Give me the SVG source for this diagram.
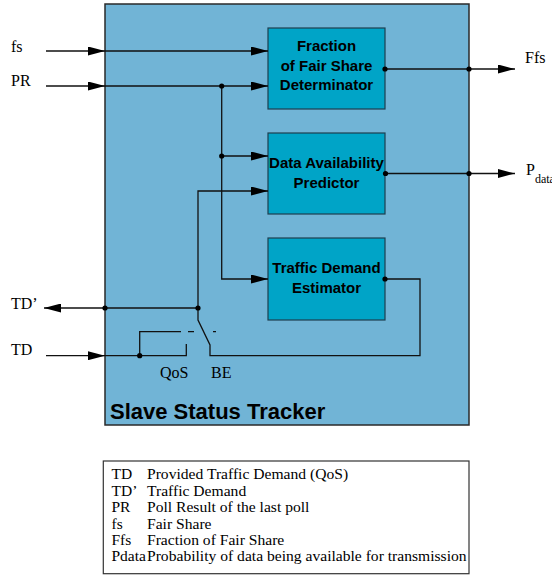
<svg xmlns="http://www.w3.org/2000/svg" width="552" height="577" viewBox="0 0 552 577">
<defs>
<marker id="ah" markerUnits="userSpaceOnUse" markerWidth="17" markerHeight="9" refX="17" refY="4.5" orient="auto">
<path d="M0,0 L17,4.5 L0,9 z" fill="#000"/>
</marker>
<style>
.wire{fill:none;stroke:#111;stroke-width:1.3}
.dot{fill:#000}
.box{fill:#00a4c7;stroke:#1d3f4f;stroke-width:1.2}
.bt{font-family:"Liberation Sans",Arial,sans-serif;font-weight:bold;font-size:15px;fill:#000;text-anchor:middle}
.lbl{font-family:"Liberation Serif","Times New Roman",serif;font-size:16px;fill:#000}
.leg{font-family:"Liberation Serif","Times New Roman",serif;font-size:15.5px;fill:#000}
.legd{font-family:"Liberation Serif","Times New Roman",serif;font-size:15.6px;fill:#000}
</style>
</defs>
<rect width="552" height="577" fill="#fff"/>
<g id="tracker">
<rect x="105" y="4" width="364" height="421" fill="#71b4d6" stroke="#2a2a2a" stroke-width="1.5"/>
<text x="110" y="419" font-family="Liberation Sans,Arial,sans-serif" font-weight="bold" font-size="22">Slave Status Tracker</text>
</g>
<g id="ffsd">
<rect class="box" x="268" y="28" width="117" height="81"/>
<text class="bt" x="326.5" y="51">Fraction</text>
<text class="bt" x="326.5" y="71">of Fair Share</text>
<text class="bt" x="326.5" y="90">Determinator</text>
</g>
<g id="dap">
<rect class="box" x="268" y="133" width="117" height="81"/>
<text class="bt" x="326.5" y="168">Data Availability</text>
<text class="bt" x="326.5" y="188">Predictor</text>
</g>
<g id="tde">
<rect class="box" x="268" y="238" width="117" height="82"/>
<text class="bt" x="326.5" y="273">Traffic Demand</text>
<text class="bt" x="326.5" y="293">Estimator</text>
</g>
<g id="connectors">
<path class="wire" d="M46,51 H105" marker-end="url(#ah)"/>
<path class="wire" d="M105,51 H268" marker-end="url(#ah)"/>
<path class="wire" d="M46,86 H105" marker-end="url(#ah)"/>
<path class="wire" d="M105,86 H268" marker-end="url(#ah)"/>
<path class="wire" d="M221.7,86 V279 H268" marker-end="url(#ah)"/>
<path class="wire" d="M221.7,156 H268" marker-end="url(#ah)"/>
<path class="wire" d="M198,308 V191 H268" marker-end="url(#ah)"/>
<path class="wire" d="M198,308 H44" marker-end="url(#ah)"/>
<path class="wire" d="M198,308 V320 L210,345 V355.7 H420 V279 H385"/>
<path class="wire" d="M46,355.7 H105" marker-end="url(#ah)"/>
<path class="wire" d="M105,355.7 H186.3 V344"/>
<path class="wire" d="M139.7,355.7 V331.7 H181"/>
<path class="wire" d="M188,331.7 H194 M213,331.7 H216"/>
<path class="wire" d="M385,69 H515" marker-end="url(#ah)"/>
<path class="wire" d="M385,173.5 H515" marker-end="url(#ah)"/>
<circle class="dot" cx="221.7" cy="86" r="2.6"/>
<circle class="dot" cx="221.7" cy="156" r="2.6"/>
<circle class="dot" cx="198" cy="308" r="2.6"/>
<circle class="dot" cx="105" cy="308" r="2.6"/>
<circle class="dot" cx="139.7" cy="355.7" r="2.6"/>
<circle class="dot" cx="385" cy="279" r="2.6"/>
<circle class="dot" cx="385" cy="69" r="2.6"/>
<circle class="dot" cx="469" cy="69" r="2.6"/>
<circle class="dot" cx="385.5" cy="173.5" r="2.6"/>
<circle class="dot" cx="469" cy="173.5" r="2.6"/>
</g>
<g id="labels">
<text class="lbl" x="11" y="52">fs</text>
<text class="lbl" x="11" y="86">PR</text>
<text class="lbl" x="11" y="309">TD’</text>
<text class="lbl" x="11" y="355">TD</text>
<text class="lbl" x="525" y="63">Ffs</text>
<text class="lbl" x="526" y="175">P<tspan font-size="12" dy="8">data</tspan></text>
<text class="lbl" x="160" y="378">QoS</text>
<text class="lbl" x="211" y="378">BE</text>
</g>
<g id="legend">
<rect x="103.3" y="461" width="365.7" height="112.7" fill="#fff" stroke="#333" stroke-width="1.2"/>
<text class="leg" x="111.5" y="479">TD</text>
<text class="legd" x="147" y="479">Provided Traffic Demand (QoS)</text>
<text class="leg" x="111.5" y="495.5">TD’</text>
<text class="legd" x="147" y="495.5">Traffic Demand</text>
<text class="leg" x="111.5" y="512">PR</text>
<text class="legd" x="147" y="512">Poll Result of the last poll</text>
<text class="leg" x="111.5" y="528.5">fs</text>
<text class="legd" x="147" y="528.5">Fair Share</text>
<text class="leg" x="111.5" y="545">Ffs</text>
<text class="legd" x="147" y="545">Fraction of Fair Share</text>
<text class="leg" x="111.5" y="561">Pdata</text>
<text class="legd" x="147" y="561">Probability of data being available for transmission</text>
</g>
</svg>
